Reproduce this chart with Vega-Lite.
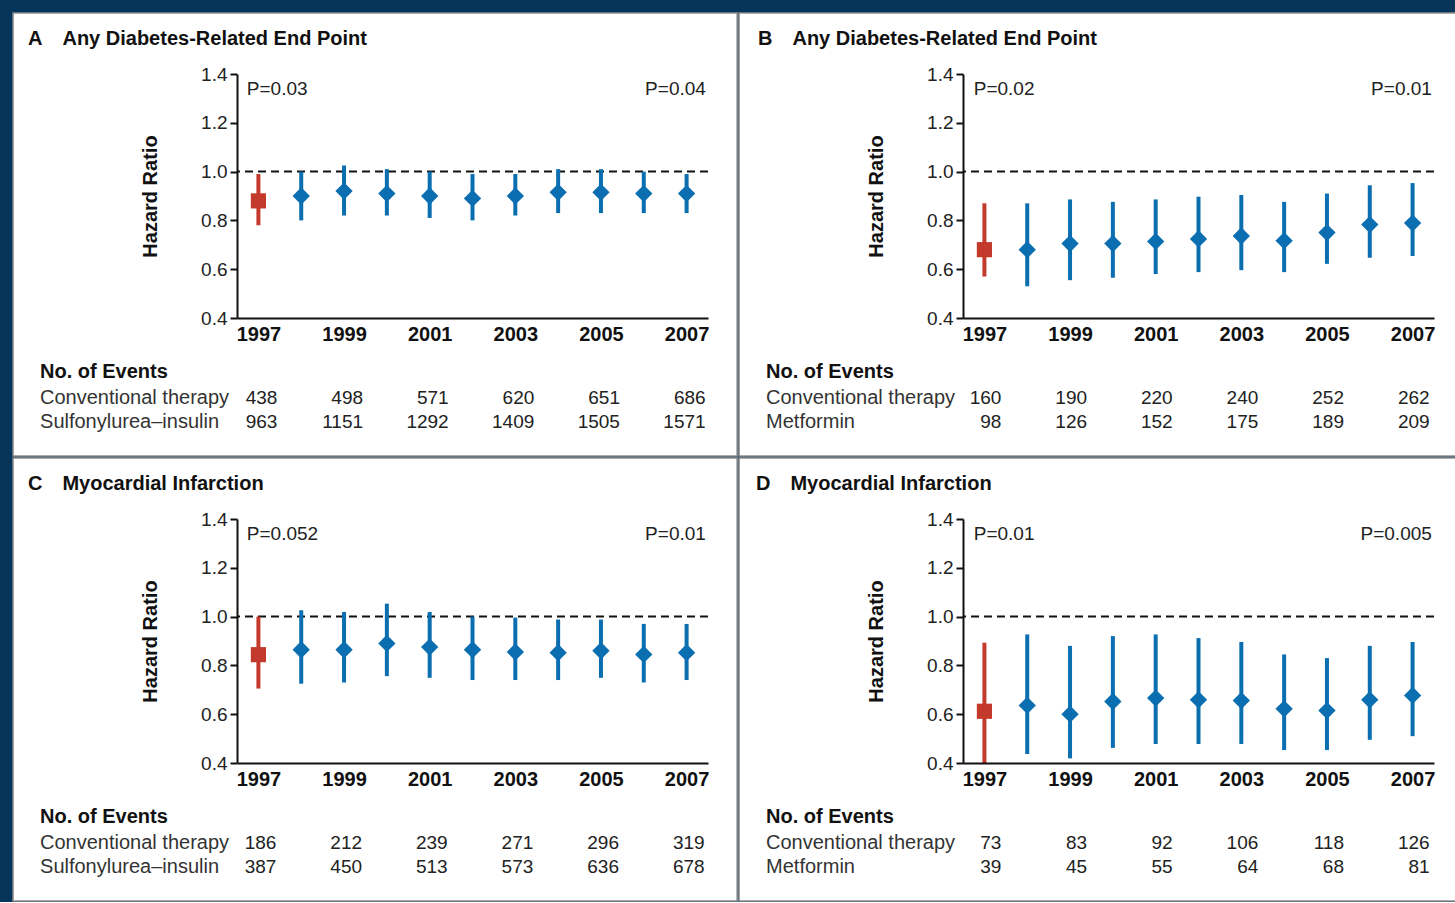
{
  "$schema": "https://vega.github.io/schema/vega-lite/v6.json",
  "background": "#07355a",
  "padding": {"left": 12, "top": 12, "right": 0, "bottom": 0},
  "spacing": 0,
  "columns": 2,
  "config": {
    "font": "Liberation Sans",
    "view": {"stroke": null},
    "title": {"font": "Liberation Sans", "fontSize": 20, "fontWeight": "bold", "color": "#111111"},
    "axis": {"labelFont": "Liberation Sans", "titleFont": "Liberation Sans", "grid": false}
  },
  "datasets": {
    "hrA": [
      {"year": 1997, "hr": 0.88, "lo": 0.78, "hi": 0.99},
      {"year": 1998, "hr": 0.90, "lo": 0.80, "hi": 1.00},
      {"year": 1999, "hr": 0.92, "lo": 0.82, "hi": 1.025},
      {"year": 2000, "hr": 0.91, "lo": 0.82, "hi": 1.01},
      {"year": 2001, "hr": 0.90, "lo": 0.81, "hi": 1.00},
      {"year": 2002, "hr": 0.89, "lo": 0.80, "hi": 0.99},
      {"year": 2003, "hr": 0.90, "lo": 0.82, "hi": 0.99},
      {"year": 2004, "hr": 0.915, "lo": 0.83, "hi": 1.01},
      {"year": 2005, "hr": 0.915, "lo": 0.83, "hi": 1.01},
      {"year": 2006, "hr": 0.91, "lo": 0.83, "hi": 1.00},
      {"year": 2007, "hr": 0.91, "lo": 0.83, "hi": 0.99}
    ],
    "hrB": [
      {"year": 1997, "hr": 0.68, "lo": 0.57, "hi": 0.87},
      {"year": 1998, "hr": 0.68, "lo": 0.53, "hi": 0.87},
      {"year": 1999, "hr": 0.705, "lo": 0.555, "hi": 0.886},
      {"year": 2000, "hr": 0.705, "lo": 0.565, "hi": 0.876},
      {"year": 2001, "hr": 0.714, "lo": 0.58, "hi": 0.886},
      {"year": 2002, "hr": 0.724, "lo": 0.588, "hi": 0.897},
      {"year": 2003, "hr": 0.736, "lo": 0.596, "hi": 0.904},
      {"year": 2004, "hr": 0.717, "lo": 0.588, "hi": 0.876},
      {"year": 2005, "hr": 0.75, "lo": 0.622, "hi": 0.91},
      {"year": 2006, "hr": 0.783, "lo": 0.647, "hi": 0.944},
      {"year": 2007, "hr": 0.789, "lo": 0.654, "hi": 0.953}
    ],
    "hrC": [
      {"year": 1997, "hr": 0.844, "lo": 0.705, "hi": 1.0},
      {"year": 1998, "hr": 0.864, "lo": 0.725, "hi": 1.026},
      {"year": 1999, "hr": 0.864, "lo": 0.73, "hi": 1.019},
      {"year": 2000, "hr": 0.89, "lo": 0.756, "hi": 1.053},
      {"year": 2001, "hr": 0.875, "lo": 0.749, "hi": 1.019},
      {"year": 2002, "hr": 0.864, "lo": 0.74, "hi": 1.0},
      {"year": 2003, "hr": 0.855, "lo": 0.74, "hi": 0.996},
      {"year": 2004, "hr": 0.852, "lo": 0.74, "hi": 0.988},
      {"year": 2005, "hr": 0.86, "lo": 0.749, "hi": 0.988},
      {"year": 2006, "hr": 0.845, "lo": 0.73, "hi": 0.97},
      {"year": 2007, "hr": 0.852, "lo": 0.74, "hi": 0.97}
    ],
    "hrD": [
      {"year": 1997, "hr": 0.612, "lo": 0.40, "hi": 0.893},
      {"year": 1998, "hr": 0.636, "lo": 0.437, "hi": 0.927},
      {"year": 1999, "hr": 0.60, "lo": 0.419, "hi": 0.88},
      {"year": 2000, "hr": 0.652, "lo": 0.462, "hi": 0.92},
      {"year": 2001, "hr": 0.666, "lo": 0.478, "hi": 0.927},
      {"year": 2002, "hr": 0.659, "lo": 0.478, "hi": 0.912},
      {"year": 2003, "hr": 0.656, "lo": 0.478, "hi": 0.896},
      {"year": 2004, "hr": 0.622, "lo": 0.453, "hi": 0.845},
      {"year": 2005, "hr": 0.615, "lo": 0.453, "hi": 0.83},
      {"year": 2006, "hr": 0.659, "lo": 0.495, "hi": 0.88},
      {"year": 2007, "hr": 0.677, "lo": 0.51, "hi": 0.896}
    ],
    "nA": [
      {"year": 1997, "conv": 438, "trt": 963},
      {"year": 1999, "conv": 498, "trt": 1151},
      {"year": 2001, "conv": 571, "trt": 1292},
      {"year": 2003, "conv": 620, "trt": 1409},
      {"year": 2005, "conv": 651, "trt": 1505},
      {"year": 2007, "conv": 686, "trt": 1571}
    ],
    "nB": [
      {"year": 1997, "conv": 160, "trt": 98},
      {"year": 1999, "conv": 190, "trt": 126},
      {"year": 2001, "conv": 220, "trt": 152},
      {"year": 2003, "conv": 240, "trt": 175},
      {"year": 2005, "conv": 252, "trt": 189},
      {"year": 2007, "conv": 262, "trt": 209}
    ],
    "nC": [
      {"year": 1997, "conv": 186, "trt": 387},
      {"year": 1999, "conv": 212, "trt": 450},
      {"year": 2001, "conv": 239, "trt": 513},
      {"year": 2003, "conv": 271, "trt": 573},
      {"year": 2005, "conv": 296, "trt": 636},
      {"year": 2007, "conv": 319, "trt": 678}
    ],
    "nD": [
      {"year": 1997, "conv": 73, "trt": 39},
      {"year": 1999, "conv": 83, "trt": 45},
      {"year": 2001, "conv": 92, "trt": 55},
      {"year": 2003, "conv": 106, "trt": 64},
      {"year": 2005, "conv": 118, "trt": 68},
      {"year": 2007, "conv": 126, "trt": 81}
    ]
  },
  "concat": [
    {
      "data": {"name": "hrA"},
      "width": 471, "height": 244,
      "title": {"text": "A\u2003Any Diabetes-Related End Point", "anchor": "start", "frame": "group", "dx": -209, "offset": -37, "zindex": 1},
      "layer": [
        {"data": {"values": [{"panel": "A"}]},
         "mark": {"type": "rect", "fill": "#ffffff", "stroke": "#8f8f8f", "strokeWidth": 1.5, "clip": false},
         "encoding": {
           "x": {"datum": 1991.27, "type": "quantitative", "scale": {"domain": [1996.5, 2007.5], "nice": false, "zero": false},
                 "axis": {"values": [1997, 1999, 2001, 2003, 2005, 2007], "format": "d", "title": null, "ticks": false, "labelPadding": 6, "labelFontSize": 20, "labelFontWeight": "bold", "labelColor": "#111111", "domainColor": "#111111", "domainWidth": 2, "zindex": 1}},
           "x2": {"datum": 2008.18},
           "y": {"datum": 1.65, "type": "quantitative", "scale": {"domain": [0.4, 1.4], "nice": false, "zero": false},
                 "axis": {"values": [0.4, 0.6, 0.8, 1.0, 1.2, 1.4], "format": ".1f", "title": "Hazard Ratio", "titleFontSize": 20, "titleFontWeight": "bold", "titleColor": "#111111", "titlePadding": 40, "labelFontSize": 19, "labelColor": "#222222", "labelPadding": 3, "tickSize": 7, "tickWidth": 2, "tickColor": "#111111", "domainColor": "#111111", "domainWidth": 2, "zindex": 1}},
           "y2": {"datum": -0.166}
         }},
        {"data": {"values": [{"ref": 1}]}, "mark": {"type": "rule", "strokeDash": [8, 5], "strokeWidth": 2, "color": "#111111"}, "encoding": {"y": {"datum": 1.0, "type": "quantitative"}}},
        {"transform": [{"filter": "datum.year == 1997"}], "mark": {"type": "rule", "strokeWidth": 4, "color": "#c3392b"}, "encoding": {"x": {"field": "year", "type": "quantitative"}, "y": {"field": "lo", "type": "quantitative"}, "y2": {"field": "hi"}}},
        {"transform": [{"filter": "datum.year == 1997"}], "mark": {"type": "point", "shape": "square", "filled": true, "size": 230, "color": "#c3392b", "opacity": 1}, "encoding": {"x": {"field": "year", "type": "quantitative"}, "y": {"field": "hr", "type": "quantitative"}}},
        {"transform": [{"filter": "datum.year > 1997"}], "mark": {"type": "rule", "strokeWidth": 4, "color": "#0a6eb0"}, "encoding": {"x": {"field": "year", "type": "quantitative"}, "y": {"field": "lo", "type": "quantitative"}, "y2": {"field": "hi"}}},
        {"transform": [{"filter": "datum.year > 1997"}], "mark": {"type": "point", "shape": "diamond", "filled": true, "size": 300, "color": "#0a6eb0", "opacity": 1}, "encoding": {"x": {"field": "year", "type": "quantitative"}, "y": {"field": "hr", "type": "quantitative"}}},
        {"data": {"values": [{"p": "P=0.03"}]}, "mark": {"type": "text", "align": "left", "baseline": "middle", "fontSize": 19, "color": "#222222"}, "encoding": {"x": {"datum": 1996.73, "type": "quantitative"}, "y": {"datum": 1.337, "type": "quantitative"}, "text": {"field": "p", "type": "nominal"}}},
        {"data": {"values": [{"p": "P=0.04"}]}, "mark": {"type": "text", "align": "right", "baseline": "middle", "fontSize": 19, "color": "#222222"}, "encoding": {"x": {"datum": 2007.45, "type": "quantitative"}, "y": {"datum": 1.337, "type": "quantitative"}, "text": {"field": "p", "type": "nominal"}}},
        {"data": {"values": [{"label": "No. of Events"}]}, "mark": {"type": "text", "align": "left", "baseline": "middle", "fontSize": 20, "fontWeight": "bold", "color": "#111111"}, "encoding": {"x": {"datum": 1991.9, "type": "quantitative"}, "y": {"datum": 0.179, "type": "quantitative"}, "text": {"field": "label", "type": "nominal"}}},
        {"data": {"values": [{"label": "Conventional therapy"}]}, "mark": {"type": "text", "align": "left", "baseline": "middle", "fontSize": 20, "color": "#333333"}, "encoding": {"x": {"datum": 1991.9, "type": "quantitative"}, "y": {"datum": 0.072, "type": "quantitative"}, "text": {"field": "label", "type": "nominal"}}},
        {"data": {"values": [{"label": "Sulfonylurea–insulin"}]}, "mark": {"type": "text", "align": "left", "baseline": "middle", "fontSize": 20, "color": "#333333"}, "encoding": {"x": {"datum": 1991.9, "type": "quantitative"}, "y": {"datum": -0.026, "type": "quantitative"}, "text": {"field": "label", "type": "nominal"}}},
        {"data": {"name": "nA"}, "mark": {"type": "text", "align": "right", "dx": 19, "baseline": "middle", "fontSize": 19, "color": "#222222"}, "encoding": {"x": {"field": "year", "type": "quantitative"}, "y": {"datum": 0.072, "type": "quantitative"}, "text": {"field": "conv", "type": "nominal"}}},
        {"data": {"name": "nA"}, "mark": {"type": "text", "align": "right", "dx": 19, "baseline": "middle", "fontSize": 19, "color": "#222222"}, "encoding": {"x": {"field": "year", "type": "quantitative"}, "y": {"datum": -0.026, "type": "quantitative"}, "text": {"field": "trt", "type": "nominal"}}}
      ]
    },
    {
      "data": {"name": "hrB"},
      "width": 471, "height": 244,
      "title": {"text": "B\u2003Any Diabetes-Related End Point", "anchor": "start", "frame": "group", "dx": -205, "offset": -37, "zindex": 1},
      "layer": [
        {"data": {"values": [{"panel": "B"}]},
         "mark": {"type": "rect", "fill": "#ffffff", "stroke": "#8f8f8f", "strokeWidth": 1.5, "clip": false},
         "encoding": {
           "x": {"datum": 1991.27, "type": "quantitative", "scale": {"domain": [1996.5, 2007.5], "nice": false, "zero": false},
                 "axis": {"values": [1997, 1999, 2001, 2003, 2005, 2007], "format": "d", "title": null, "ticks": false, "labelPadding": 6, "labelFontSize": 20, "labelFontWeight": "bold", "labelColor": "#111111", "domainColor": "#111111", "domainWidth": 2, "zindex": 1}},
           "x2": {"datum": 2008.18},
           "y": {"datum": 1.65, "type": "quantitative", "scale": {"domain": [0.4, 1.4], "nice": false, "zero": false},
                 "axis": {"values": [0.4, 0.6, 0.8, 1.0, 1.2, 1.4], "format": ".1f", "title": "Hazard Ratio", "titleFontSize": 20, "titleFontWeight": "bold", "titleColor": "#111111", "titlePadding": 40, "labelFontSize": 19, "labelColor": "#222222", "labelPadding": 3, "tickSize": 7, "tickWidth": 2, "tickColor": "#111111", "domainColor": "#111111", "domainWidth": 2, "zindex": 1}},
           "y2": {"datum": -0.166}
         }},
        {"data": {"values": [{"ref": 1}]}, "mark": {"type": "rule", "strokeDash": [8, 5], "strokeWidth": 2, "color": "#111111"}, "encoding": {"y": {"datum": 1.0, "type": "quantitative"}}},
        {"transform": [{"filter": "datum.year == 1997"}], "mark": {"type": "rule", "strokeWidth": 4, "color": "#c3392b"}, "encoding": {"x": {"field": "year", "type": "quantitative"}, "y": {"field": "lo", "type": "quantitative"}, "y2": {"field": "hi"}}},
        {"transform": [{"filter": "datum.year == 1997"}], "mark": {"type": "point", "shape": "square", "filled": true, "size": 230, "color": "#c3392b", "opacity": 1}, "encoding": {"x": {"field": "year", "type": "quantitative"}, "y": {"field": "hr", "type": "quantitative"}}},
        {"transform": [{"filter": "datum.year > 1997"}], "mark": {"type": "rule", "strokeWidth": 4, "color": "#0a6eb0"}, "encoding": {"x": {"field": "year", "type": "quantitative"}, "y": {"field": "lo", "type": "quantitative"}, "y2": {"field": "hi"}}},
        {"transform": [{"filter": "datum.year > 1997"}], "mark": {"type": "point", "shape": "diamond", "filled": true, "size": 300, "color": "#0a6eb0", "opacity": 1}, "encoding": {"x": {"field": "year", "type": "quantitative"}, "y": {"field": "hr", "type": "quantitative"}}},
        {"data": {"values": [{"p": "P=0.02"}]}, "mark": {"type": "text", "align": "left", "baseline": "middle", "fontSize": 19, "color": "#222222"}, "encoding": {"x": {"datum": 1996.75, "type": "quantitative"}, "y": {"datum": 1.337, "type": "quantitative"}, "text": {"field": "p", "type": "nominal"}}},
        {"data": {"values": [{"p": "P=0.01"}]}, "mark": {"type": "text", "align": "right", "baseline": "middle", "fontSize": 19, "color": "#222222"}, "encoding": {"x": {"datum": 2007.45, "type": "quantitative"}, "y": {"datum": 1.337, "type": "quantitative"}, "text": {"field": "p", "type": "nominal"}}},
        {"data": {"values": [{"label": "No. of Events"}]}, "mark": {"type": "text", "align": "left", "baseline": "middle", "fontSize": 20, "fontWeight": "bold", "color": "#111111"}, "encoding": {"x": {"datum": 1991.9, "type": "quantitative"}, "y": {"datum": 0.179, "type": "quantitative"}, "text": {"field": "label", "type": "nominal"}}},
        {"data": {"values": [{"label": "Conventional therapy"}]}, "mark": {"type": "text", "align": "left", "baseline": "middle", "fontSize": 20, "color": "#333333"}, "encoding": {"x": {"datum": 1991.9, "type": "quantitative"}, "y": {"datum": 0.072, "type": "quantitative"}, "text": {"field": "label", "type": "nominal"}}},
        {"data": {"values": [{"label": "Metformin"}]}, "mark": {"type": "text", "align": "left", "baseline": "middle", "fontSize": 20, "color": "#333333"}, "encoding": {"x": {"datum": 1991.9, "type": "quantitative"}, "y": {"datum": -0.026, "type": "quantitative"}, "text": {"field": "label", "type": "nominal"}}},
        {"data": {"name": "nB"}, "mark": {"type": "text", "align": "right", "dx": 17, "baseline": "middle", "fontSize": 19, "color": "#222222"}, "encoding": {"x": {"field": "year", "type": "quantitative"}, "y": {"datum": 0.072, "type": "quantitative"}, "text": {"field": "conv", "type": "nominal"}}},
        {"data": {"name": "nB"}, "mark": {"type": "text", "align": "right", "dx": 17, "baseline": "middle", "fontSize": 19, "color": "#222222"}, "encoding": {"x": {"field": "year", "type": "quantitative"}, "y": {"datum": -0.026, "type": "quantitative"}, "text": {"field": "trt", "type": "nominal"}}}
      ]
    },
    {
      "data": {"name": "hrC"},
      "width": 471, "height": 244,
      "title": {"text": "C\u2003Myocardial Infarction", "anchor": "start", "frame": "group", "dx": -209, "offset": -37, "zindex": 1},
      "layer": [
        {"data": {"values": [{"panel": "C"}]},
         "mark": {"type": "rect", "fill": "#ffffff", "stroke": "#8f8f8f", "strokeWidth": 1.5, "clip": false},
         "encoding": {
           "x": {"datum": 1991.27, "type": "quantitative", "scale": {"domain": [1996.5, 2007.5], "nice": false, "zero": false},
                 "axis": {"values": [1997, 1999, 2001, 2003, 2005, 2007], "format": "d", "title": null, "ticks": false, "labelPadding": 6, "labelFontSize": 20, "labelFontWeight": "bold", "labelColor": "#111111", "domainColor": "#111111", "domainWidth": 2, "zindex": 1}},
           "x2": {"datum": 2008.18},
           "y": {"datum": 1.65, "type": "quantitative", "scale": {"domain": [0.4, 1.4], "nice": false, "zero": false},
                 "axis": {"values": [0.4, 0.6, 0.8, 1.0, 1.2, 1.4], "format": ".1f", "title": "Hazard Ratio", "titleFontSize": 20, "titleFontWeight": "bold", "titleColor": "#111111", "titlePadding": 40, "labelFontSize": 19, "labelColor": "#222222", "labelPadding": 3, "tickSize": 7, "tickWidth": 2, "tickColor": "#111111", "domainColor": "#111111", "domainWidth": 2, "zindex": 1}},
           "y2": {"datum": -0.166}
         }},
        {"data": {"values": [{"ref": 1}]}, "mark": {"type": "rule", "strokeDash": [8, 5], "strokeWidth": 2, "color": "#111111"}, "encoding": {"y": {"datum": 1.0, "type": "quantitative"}}},
        {"transform": [{"filter": "datum.year == 1997"}], "mark": {"type": "rule", "strokeWidth": 4, "color": "#c3392b"}, "encoding": {"x": {"field": "year", "type": "quantitative"}, "y": {"field": "lo", "type": "quantitative"}, "y2": {"field": "hi"}}},
        {"transform": [{"filter": "datum.year == 1997"}], "mark": {"type": "point", "shape": "square", "filled": true, "size": 230, "color": "#c3392b", "opacity": 1}, "encoding": {"x": {"field": "year", "type": "quantitative"}, "y": {"field": "hr", "type": "quantitative"}}},
        {"transform": [{"filter": "datum.year > 1997"}], "mark": {"type": "rule", "strokeWidth": 4, "color": "#0a6eb0"}, "encoding": {"x": {"field": "year", "type": "quantitative"}, "y": {"field": "lo", "type": "quantitative"}, "y2": {"field": "hi"}}},
        {"transform": [{"filter": "datum.year > 1997"}], "mark": {"type": "point", "shape": "diamond", "filled": true, "size": 300, "color": "#0a6eb0", "opacity": 1}, "encoding": {"x": {"field": "year", "type": "quantitative"}, "y": {"field": "hr", "type": "quantitative"}}},
        {"data": {"values": [{"p": "P=0.052"}]}, "mark": {"type": "text", "align": "left", "baseline": "middle", "fontSize": 19, "color": "#222222"}, "encoding": {"x": {"datum": 1996.73, "type": "quantitative"}, "y": {"datum": 1.337, "type": "quantitative"}, "text": {"field": "p", "type": "nominal"}}},
        {"data": {"values": [{"p": "P=0.01"}]}, "mark": {"type": "text", "align": "right", "baseline": "middle", "fontSize": 19, "color": "#222222"}, "encoding": {"x": {"datum": 2007.45, "type": "quantitative"}, "y": {"datum": 1.337, "type": "quantitative"}, "text": {"field": "p", "type": "nominal"}}},
        {"data": {"values": [{"label": "No. of Events"}]}, "mark": {"type": "text", "align": "left", "baseline": "middle", "fontSize": 20, "fontWeight": "bold", "color": "#111111"}, "encoding": {"x": {"datum": 1991.9, "type": "quantitative"}, "y": {"datum": 0.179, "type": "quantitative"}, "text": {"field": "label", "type": "nominal"}}},
        {"data": {"values": [{"label": "Conventional therapy"}]}, "mark": {"type": "text", "align": "left", "baseline": "middle", "fontSize": 20, "color": "#333333"}, "encoding": {"x": {"datum": 1991.9, "type": "quantitative"}, "y": {"datum": 0.072, "type": "quantitative"}, "text": {"field": "label", "type": "nominal"}}},
        {"data": {"values": [{"label": "Sulfonylurea–insulin"}]}, "mark": {"type": "text", "align": "left", "baseline": "middle", "fontSize": 20, "color": "#333333"}, "encoding": {"x": {"datum": 1991.9, "type": "quantitative"}, "y": {"datum": -0.026, "type": "quantitative"}, "text": {"field": "label", "type": "nominal"}}},
        {"data": {"name": "nC"}, "mark": {"type": "text", "align": "right", "dx": 18, "baseline": "middle", "fontSize": 19, "color": "#222222"}, "encoding": {"x": {"field": "year", "type": "quantitative"}, "y": {"datum": 0.072, "type": "quantitative"}, "text": {"field": "conv", "type": "nominal"}}},
        {"data": {"name": "nC"}, "mark": {"type": "text", "align": "right", "dx": 18, "baseline": "middle", "fontSize": 19, "color": "#222222"}, "encoding": {"x": {"field": "year", "type": "quantitative"}, "y": {"datum": -0.026, "type": "quantitative"}, "text": {"field": "trt", "type": "nominal"}}}
      ]
    },
    {
      "data": {"name": "hrD"},
      "width": 471, "height": 244,
      "title": {"text": "D\u2003Myocardial Infarction", "anchor": "start", "frame": "group", "dx": -207, "offset": -37, "zindex": 1},
      "layer": [
        {"data": {"values": [{"panel": "D"}]},
         "mark": {"type": "rect", "fill": "#ffffff", "stroke": "#8f8f8f", "strokeWidth": 1.5, "clip": false},
         "encoding": {
           "x": {"datum": 1991.27, "type": "quantitative", "scale": {"domain": [1996.5, 2007.5], "nice": false, "zero": false},
                 "axis": {"values": [1997, 1999, 2001, 2003, 2005, 2007], "format": "d", "title": null, "ticks": false, "labelPadding": 6, "labelFontSize": 20, "labelFontWeight": "bold", "labelColor": "#111111", "domainColor": "#111111", "domainWidth": 2, "zindex": 1}},
           "x2": {"datum": 2008.18},
           "y": {"datum": 1.65, "type": "quantitative", "scale": {"domain": [0.4, 1.4], "nice": false, "zero": false},
                 "axis": {"values": [0.4, 0.6, 0.8, 1.0, 1.2, 1.4], "format": ".1f", "title": "Hazard Ratio", "titleFontSize": 20, "titleFontWeight": "bold", "titleColor": "#111111", "titlePadding": 40, "labelFontSize": 19, "labelColor": "#222222", "labelPadding": 3, "tickSize": 7, "tickWidth": 2, "tickColor": "#111111", "domainColor": "#111111", "domainWidth": 2, "zindex": 1}},
           "y2": {"datum": -0.166}
         }},
        {"data": {"values": [{"ref": 1}]}, "mark": {"type": "rule", "strokeDash": [8, 5], "strokeWidth": 2, "color": "#111111"}, "encoding": {"y": {"datum": 1.0, "type": "quantitative"}}},
        {"transform": [{"filter": "datum.year == 1997"}], "mark": {"type": "rule", "strokeWidth": 4, "color": "#c3392b"}, "encoding": {"x": {"field": "year", "type": "quantitative"}, "y": {"field": "lo", "type": "quantitative"}, "y2": {"field": "hi"}}},
        {"transform": [{"filter": "datum.year == 1997"}], "mark": {"type": "point", "shape": "square", "filled": true, "size": 230, "color": "#c3392b", "opacity": 1}, "encoding": {"x": {"field": "year", "type": "quantitative"}, "y": {"field": "hr", "type": "quantitative"}}},
        {"transform": [{"filter": "datum.year > 1997"}], "mark": {"type": "rule", "strokeWidth": 4, "color": "#0a6eb0"}, "encoding": {"x": {"field": "year", "type": "quantitative"}, "y": {"field": "lo", "type": "quantitative"}, "y2": {"field": "hi"}}},
        {"transform": [{"filter": "datum.year > 1997"}], "mark": {"type": "point", "shape": "diamond", "filled": true, "size": 300, "color": "#0a6eb0", "opacity": 1}, "encoding": {"x": {"field": "year", "type": "quantitative"}, "y": {"field": "hr", "type": "quantitative"}}},
        {"data": {"values": [{"p": "P=0.01"}]}, "mark": {"type": "text", "align": "left", "baseline": "middle", "fontSize": 19, "color": "#222222"}, "encoding": {"x": {"datum": 1996.75, "type": "quantitative"}, "y": {"datum": 1.337, "type": "quantitative"}, "text": {"field": "p", "type": "nominal"}}},
        {"data": {"values": [{"p": "P=0.005"}]}, "mark": {"type": "text", "align": "right", "baseline": "middle", "fontSize": 19, "color": "#222222"}, "encoding": {"x": {"datum": 2007.45, "type": "quantitative"}, "y": {"datum": 1.337, "type": "quantitative"}, "text": {"field": "p", "type": "nominal"}}},
        {"data": {"values": [{"label": "No. of Events"}]}, "mark": {"type": "text", "align": "left", "baseline": "middle", "fontSize": 20, "fontWeight": "bold", "color": "#111111"}, "encoding": {"x": {"datum": 1991.9, "type": "quantitative"}, "y": {"datum": 0.179, "type": "quantitative"}, "text": {"field": "label", "type": "nominal"}}},
        {"data": {"values": [{"label": "Conventional therapy"}]}, "mark": {"type": "text", "align": "left", "baseline": "middle", "fontSize": 20, "color": "#333333"}, "encoding": {"x": {"datum": 1991.9, "type": "quantitative"}, "y": {"datum": 0.072, "type": "quantitative"}, "text": {"field": "label", "type": "nominal"}}},
        {"data": {"values": [{"label": "Metformin"}]}, "mark": {"type": "text", "align": "left", "baseline": "middle", "fontSize": 20, "color": "#333333"}, "encoding": {"x": {"datum": 1991.9, "type": "quantitative"}, "y": {"datum": -0.026, "type": "quantitative"}, "text": {"field": "label", "type": "nominal"}}},
        {"data": {"name": "nD"}, "mark": {"type": "text", "align": "right", "dx": 17, "baseline": "middle", "fontSize": 19, "color": "#222222"}, "encoding": {"x": {"field": "year", "type": "quantitative"}, "y": {"datum": 0.072, "type": "quantitative"}, "text": {"field": "conv", "type": "nominal"}}},
        {"data": {"name": "nD"}, "mark": {"type": "text", "align": "right", "dx": 17, "baseline": "middle", "fontSize": 19, "color": "#222222"}, "encoding": {"x": {"field": "year", "type": "quantitative"}, "y": {"datum": -0.026, "type": "quantitative"}, "text": {"field": "trt", "type": "nominal"}}}
      ]
    }
  ]
}
